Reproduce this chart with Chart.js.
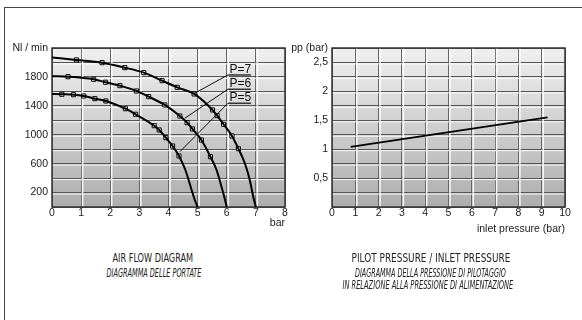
<!DOCTYPE html>
<html>
<head>
<meta charset="utf-8">
<script src="https://cdn.jsdelivr.net/npm/chart.js"></script>
<style>
body { margin: 0; background: #fff; }
#wrap { position: relative; width: 582px; height: 320px; overflow: hidden; background: #fff; }
#frame { position: absolute; left: 4px; top: 7px; width: 640px; height: 360px; border-top: 1.5px solid #444; border-left: 1.5px solid #444; }
#flow { position: absolute; left: 0; top: 0; }
#pilot { position: absolute; left: 280px; top: 0; }
.cap { position: absolute; white-space: nowrap; font-family: "Liberation Sans Narrow", "DejaVu Sans Condensed", "Liberation Sans", sans-serif; font-size: 13px; color: #222; line-height: 1; }
.it { font-style: italic; }
</style>
</head>
<body>
<div id="wrap">
  <div id="frame"></div>
  <canvas id="flow" width="300" height="240"></canvas>
  <canvas id="pilot" width="302" height="240"></canvas>
  <span class="cap" data-cx="153" data-cy="257" data-w="81">AIR FLOW DIAGRAM</span>
  <span class="cap it" data-cx="154" data-cy="272" data-w="95">DIAGRAMMA DELLE PORTATE</span>
  <span class="cap" data-cx="431" data-cy="257" data-w="159">PILOT PRESSURE / INLET PRESSURE</span>
  <span class="cap it" data-cx="430" data-cy="272" data-w="151">DIAGRAMMA DELLA PRESSIONE DI PILOTAGGIO</span>
  <span class="cap it" data-cx="428" data-cy="284" data-w="171">IN RELAZIONE ALLA PRESSIONE DI ALIMENTAZIONE</span>
</div>
<script>
// air flow curves (x = bar, y = Nl/min)
const p7MarkX = [0.84, 1.72, 2.5, 3.15, 3.78, 4.3, 4.88, 5.51, 5.67, 5.89, 6.18, 6.4];
const p7MarkY = [2035, 1997, 1928, 1859, 1748, 1656, 1564, 1343, 1264, 1145, 983, 807];
const p7TailX = [6.62, 6.79, 6.91, 7];
const p7TailY = [605, 374, 143, 0];
const p7Start = 2070;

const p6MarkX = [0.55, 1.43, 1.84, 2.33, 2.9, 3.32, 3.87, 4.39, 4.64, 4.82, 5.13, 5.44];
const p6MarkY = [1803, 1767, 1726, 1679, 1605, 1527, 1412, 1259, 1167, 1080, 927, 696];
const p6TailX = [5.65, 5.82, 5.94, 6];
const p6TailY = [512, 281, 100, 0];
const p6Start = 1810;

const p5MarkX = [0.34, 0.74, 1.09, 1.47, 1.85, 2.52, 2.87, 3.51, 3.68, 3.91, 4.14, 4.36];
const p5MarkY = [1560, 1554, 1536, 1499, 1467, 1360, 1283, 1125, 1066, 959, 844, 706];
const p5TailX = [4.58, 4.76, 4.9, 5];
const p5TailY = [512, 281, 100, 0];
const p5Start = 1565;

const curveNames = ['P=7', 'P=6', 'P=5'];
// where each label sits and where its leader meets the curve
const nameLineY = [1827, 1629, 1435];
const nameLineX = [6.04, 6.83];
const leaderX = [4.9, 4.56, 4.39];
const leaderY = [1574, 1228, 765];

// pilot pressure line
const inletX = [0.8, 9.25];
const pilotY = [1.04, 1.55];

const flowTickLabels = { 200: '200', 600: '600', 1000: '1000', 1400: '1400', 1800: '1800', 2200: 'Nl / min' };
const pilotTickLabels = { 0.5: '0,5', 1: '1', 1.5: '1,5', 2: '2', 2.5: '2,5', 2.75: 'pp (bar)' };

Chart.defaults.font.family = '"Liberation Sans", Arial, sans-serif';
Chart.defaults.font.size = 10.5;
Chart.defaults.color = '#1a1a1a';

function pts(xs, ys) {
    let out = [];
    for (let i = 0; i < xs.length; i++) out.push({ x: xs[i], y: ys[i] });
    return out;
}
function curve(start, mx, my, tx, ty) {
    return [{ x: 0, y: start }].concat(pts(mx, my), pts(tx, ty));
}

const panel = {
    id: 'panel',
    beforeDraw(chart) {
        const ctx = chart.ctx, a = chart.chartArea;
        const g = ctx.createLinearGradient(0, a.top, 0, a.bottom);
        g.addColorStop(0, '#f0f0f0');
        g.addColorStop(1, '#adadad');
        ctx.save();
        ctx.fillStyle = g;
        ctx.fillRect(a.left, a.top, a.right - a.left, a.bottom - a.top);
        ctx.restore();
    },
    beforeDatasetsDraw(chart) {
        const ctx = chart.ctx, a = chart.chartArea;
        const xs = chart.scales.x, ys = chart.scales.y;
        ctx.save();
        ctx.strokeStyle = 'rgba(255,255,255,0.9)';
        ctx.lineWidth = 1;
        ys.ticks.forEach((t) => {
            const py = ys.getPixelForValue(t.value);
            if (py <= a.top + 1 || py >= a.bottom - 1) return;
            ctx.beginPath();
            ctx.moveTo(a.left, py + 1.5);
            ctx.lineTo(a.right, py + 1.5);
            ctx.stroke();
        });
        ctx.lineWidth = 1.5;
        xs.ticks.forEach((t) => {
            const px = xs.getPixelForValue(t.value);
            if (px <= a.left + 1 || px >= a.right - 1) return;
            ctx.beginPath();
            ctx.moveTo(px + 1.5, a.top);
            ctx.lineTo(px + 1.5, a.bottom);
            ctx.stroke();
        });
        ctx.strokeStyle = '#333';
        ctx.lineWidth = 1.5;
        ctx.strokeRect(a.left, a.top, a.right - a.left, a.bottom - a.top);
        ctx.restore();
    }
};

const leaders = {
    id: 'leaders',
    afterDatasetsDraw(chart) {
        const ctx = chart.ctx, xs = chart.scales.x, ys = chart.scales.y;
        ctx.save();
        for (let i = 0; i < curveNames.length; i++) {
            const lx = xs.getPixelForValue(nameLineX[0]);
            const rx = xs.getPixelForValue(nameLineX[1]);
            const ly = ys.getPixelForValue(nameLineY[i]);
            ctx.strokeStyle = '#111';
            ctx.lineWidth = 1;
            ctx.beginPath();
            ctx.moveTo(lx, ly);
            ctx.lineTo(xs.getPixelForValue(leaderX[i]), ys.getPixelForValue(leaderY[i]));
            ctx.stroke();
            ctx.strokeStyle = '#333';
            ctx.lineWidth = 1.5;
            ctx.beginPath();
            ctx.moveTo(lx, ly);
            ctx.lineTo(rx, ly);
            ctx.stroke();
            ctx.fillStyle = '#111';
            ctx.font = '12px "Liberation Sans", Arial, sans-serif';
            ctx.textAlign = 'left';
            ctx.textBaseline = 'alphabetic';
            ctx.fillText(curveNames[i], lx + 1.5, ly - 2);
        }
        ctx.restore();
    }
};

function xScale(max, title, titlePad) {
    return {
        type: 'linear', min: 0, max: max,
        ticks: { stepSize: 1, padding: 0, autoSkip: false, maxRotation: 0 },
        grid: { color: '#666', lineWidth: 1, drawTicks: false },
        border: { display: false },
        title: { display: true, text: title, align: 'end', padding: { top: 0, bottom: titlePad }, font: { size: 10.5 } },
        afterFit(s) { s.height = 33; }
    };
}
function yScale(max, step, labels) {
    return {
        type: 'linear', min: 0, max: max,
        ticks: {
            stepSize: step, padding: 4, autoSkip: false,
            callback: (v) => labels[v] || ''
        },
        grid: { color: '#555', lineWidth: 1, drawTicks: false },
        border: { display: false },
        afterFit(s) { s.width = 52; }
    };
}
function markerSet(xs, ys) {
    return {
        data: pts(xs, ys), showLine: false, pointStyle: 'rect', pointRadius: 2.9,
        backgroundColor: '#fff', borderColor: '#000', pointBorderWidth: 1
    };
}
function lineSet(data) {
    return {
        data: data, showLine: true, borderColor: '#000', borderWidth: 2,
        pointRadius: 0, cubicInterpolationMode: 'monotone'
    };
}

new Chart(document.getElementById('flow'), {
    type: 'scatter',
    data: {
        datasets: [
            lineSet(curve(p7Start, p7MarkX, p7MarkY, p7TailX, p7TailY)),
            lineSet(curve(p6Start, p6MarkX, p6MarkY, p6TailX, p6TailY)),
            lineSet(curve(p5Start, p5MarkX, p5MarkY, p5TailX, p5TailY)),
            markerSet(p7MarkX, p7MarkY),
            markerSet(p6MarkX, p6MarkY),
            markerSet(p5MarkX, p5MarkY)
        ]
    },
    options: {
        responsive: false, animation: false,
        layout: { padding: { top: 48, right: 15, left: 0, bottom: 0 } },
        plugins: { legend: { display: false }, tooltip: { enabled: false } },
        scales: { x: xScale(8, 'bar', 11), y: yScale(2200, 200, flowTickLabels) }
    },
    plugins: [panel, leaders]
});

new Chart(document.getElementById('pilot'), {
    type: 'scatter',
    data: {
        datasets: [{
            data: pts(inletX, pilotY), showLine: true, borderColor: '#000', borderWidth: 2, pointRadius: 0
        }]
    },
    options: {
        responsive: false, animation: false,
        layout: { padding: { top: 48, right: 17, left: 0, bottom: 0 } },
        plugins: { legend: { display: false }, tooltip: { enabled: false } },
        scales: { x: xScale(10, 'inlet pressure (bar)', 5), y: yScale(2.75, 0.25, pilotTickLabels) }
    },
    plugins: [panel]
});

// condensed captions: squeeze each to the width it has in the picture
document.querySelectorAll('.cap').forEach((el) => {
    const w = el.offsetWidth, h = el.offsetHeight;
    const s = (+el.dataset.w) / w;
    el.style.left = (el.dataset.cx - w / 2) + 'px';
    el.style.top = (el.dataset.cy - h / 2) + 'px';
    el.style.transform = 'scaleX(' + s.toFixed(3) + ')';
});
</script>
</body>
</html>
